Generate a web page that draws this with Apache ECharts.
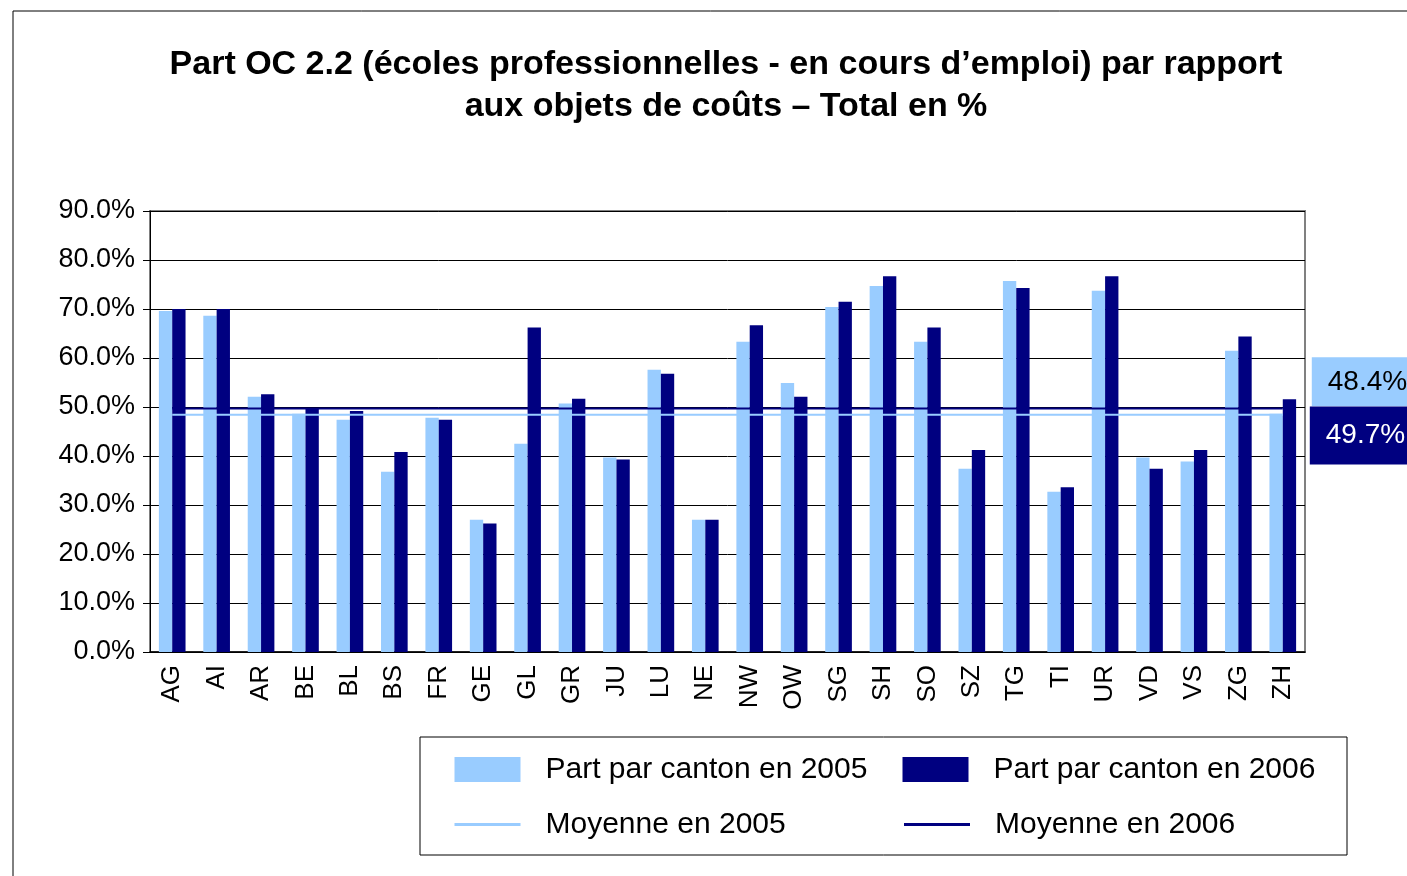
<!DOCTYPE html>
<html>
<head>
<meta charset="utf-8">
<title>Part OC 2.2</title>
<script src="https://cdn.jsdelivr.net/npm/echarts@6/dist/echarts.min.js"></script>
<style>
  html, body { margin: 0; padding: 0; background: #fff; }
  #chart { width: 1407px; height: 876px; }
</style>
</head>
<body>
<div id="chart"></div>
<script>
// cantons
const cantons = ['AG', 'AI', 'AR', 'BE', 'BL', 'BS', 'FR', 'GE', 'GL', 'GR', 'JU', 'LU', 'NE',
  'NW', 'OW', 'SG', 'SH', 'SO', 'SZ', 'TG', 'TI', 'UR', 'VD', 'VS', 'ZG', 'ZH']
// part par canton (%)
const part2005 = [69.6, 68.6, 52.1, 48.6, 47.4, 36.8, 47.8, 27.0, 42.5, 50.7, 39.7, 57.6, 27.0,
  63.3, 54.9, 70.4, 74.7, 63.3, 37.4, 75.7, 32.7, 73.7, 39.7, 38.9, 61.5, 48.6]
const part2006 = [70.0, 70.0, 52.6, 49.8, 49.2, 40.8, 47.4, 26.2, 66.2, 51.7, 39.3, 56.8, 27.0,
  66.7, 52.1, 71.5, 76.7, 66.2, 41.2, 74.3, 33.6, 76.7, 37.4, 41.2, 64.4, 51.6]
// moyennes
const moyenne2005 = 48.4
const moyenne2006 = 49.7

const light = '#99ccff'
const dark = '#000080'
const font = 'Liberation Sans, Arial, sans-serif'

const chart = echarts.init(document.getElementById('chart'))
chart.setOption({
  animation: false,
  backgroundColor: '#fff',
  textStyle: { fontFamily: font },
  graphic: [
    {
      type: 'rect',
      shape: { x: 13, y: 11, width: 1420, height: 900 },
      style: { fill: 'none', stroke: '#000', lineWidth: 1 },
      silent: true
    }
  ],
  title: {
    text: 'Part OC 2.2 (écoles professionnelles - en cours d’emploi) par rapport\naux objets de coûts – Total en %',
    left: 726,
    top: 44,
    padding: 0,
    textAlign: 'center',
    textStyle: {
      fontFamily: font,
      fontWeight: 'bold',
      fontSize: 34,
      lineHeight: 42,
      color: '#000'
    }
  },
  legend: {
    left: 420,
    top: 737,
    width: 880,
    padding: [16.5, 18, 14.5, 33],
    borderColor: '#000',
    borderWidth: 1,
    itemWidth: 66,
    itemHeight: 25,
    itemGap: 23,
    selectedMode: false,
    textStyle: {
      fontFamily: font,
      fontSize: 30,
      color: '#000',
      width: 334,
      lineHeight: 32,
      padding: [0, 0, 0, 20]
    },
    data: [
      { name: 'Part par canton en 2005', icon: 'rect' },
      { name: 'Part par canton en 2006', icon: 'rect' },
      { name: 'Moyenne en 2005', itemStyle: { opacity: 0 }, lineStyle: { width: 3 } },
      { name: 'Moyenne en 2006', itemStyle: { opacity: 0 }, lineStyle: { width: 3 } }
    ]
  },
  grid: {
    left: 150,
    right: 102,
    top: 211,
    bottom: 224,
    show: true,
    borderColor: '#808080',
    borderWidth: 2,
    backgroundColor: '#fff'
  },
  xAxis: {
    type: 'category',
    data: cantons,
    axisLine: { lineStyle: { color: '#000', width: 1.5 } },
    axisTick: { length: 7, interval: 0, lineStyle: { color: '#000' } },
    axisLabel: {
      rotate: 90,
      interval: 0,
      margin: 13,
      fontSize: 26,
      color: '#000',
      fontFamily: font
    }
  },
  yAxis: {
    type: 'value',
    min: 0,
    max: 90,
    interval: 10,
    axisLine: { show: true, lineStyle: { color: '#000', width: 1 } },
    axisTick: { show: true, length: 7, lineStyle: { color: '#000' } },
    axisLabel: {
      margin: 15,
      fontSize: 27,
      color: '#000',
      fontFamily: font,
      formatter: v => v.toFixed(1) + '%'
    },
    splitLine: { lineStyle: { color: '#000', width: 1 } }
  },
  series: [
    {
      name: 'Part par canton en 2005',
      type: 'bar',
      data: part2005,
      barGap: '0%',
      barCategoryGap: '40%',
      itemStyle: { color: light }
    },
    {
      name: 'Part par canton en 2006',
      type: 'bar',
      data: part2006,
      itemStyle: { color: dark }
    },
    {
      // ligne de moyenne: meme valeur sur chaque canton
      name: 'Moyenne en 2005',
      type: 'line',
      symbol: 'none',
      lineStyle: { color: light, width: 2 },
      itemStyle: { color: light },
      data: cantons.map(() => moyenne2005),
      endLabel: {
        show: true,
        distance: 29,
        offset: [0, -33],
        formatter: moyenne2005.toFixed(1) + '%',
        backgroundColor: light,
        color: '#000',
        fontSize: 28,
        lineHeight: 28,
        fontFamily: font,
        padding: [11, 30, 10, 16]
      }
    },
    {
      name: 'Moyenne en 2006',
      type: 'line',
      symbol: 'none',
      lineStyle: { color: dark, width: 2 },
      itemStyle: { color: dark },
      data: cantons.map(() => moyenne2006),
      endLabel: {
        show: true,
        distance: 27,
        offset: [0, 27],
        formatter: moyenne2006.toFixed(1) + '%',
        backgroundColor: dark,
        color: '#fff',
        fontSize: 28,
        lineHeight: 28,
        fontFamily: font,
        padding: [15, 30, 15, 16]
      }
    }
  ]
})
</script>
</body>
</html>
